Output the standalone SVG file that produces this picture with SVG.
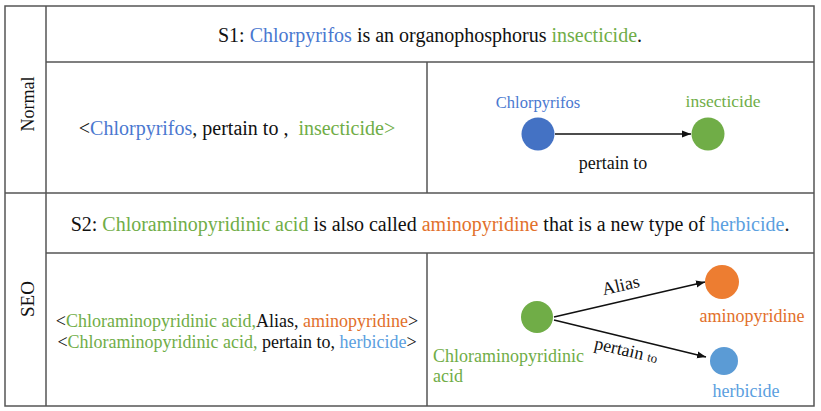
<svg xmlns="http://www.w3.org/2000/svg" width="821" height="411" viewBox="0 0 821 411">
<defs>
<style>
text{font-family:"Liberation Serif","Times New Roman",serif;fill:#111}
.b{fill:#4A78D0}.g{fill:#70AD47}.o{fill:#E2702B}.lb{fill:#5BA0E0}
.grid{stroke:#555;stroke-width:1.5;fill:none}
.edge{stroke:#111;stroke-width:1.6;fill:none}
</style>
<marker id="ah" markerWidth="10" markerHeight="8" refX="9" refY="4" orient="auto" markerUnits="userSpaceOnUse">
<path d="M0,0.5 L9,4 L0,7.5 Z" fill="#111"/>
</marker>
</defs>
<rect width="821" height="411" fill="#fff"/>
<g id="table">
<rect class="grid" x="5" y="6" width="809" height="400"/>
<line class="grid" x1="46" y1="6" x2="46" y2="406"/>
<line class="grid" x1="46" y1="62" x2="814" y2="62"/>
<line class="grid" x1="5" y1="193" x2="814" y2="193"/>
<line class="grid" x1="46" y1="253" x2="814" y2="253"/>
<line class="grid" x1="427" y1="62" x2="427" y2="193"/>
<line class="grid" x1="427" y1="253" x2="427" y2="406"/>
</g>
<g id="row-labels">
<text transform="translate(34,104) rotate(-90)" text-anchor="middle" font-size="18">Normal</text>
<text transform="translate(34,299) rotate(-90)" text-anchor="middle" font-size="19">SEO</text>
</g>
<g id="s1">
<text x="430" y="42" text-anchor="middle" font-size="20">S1: <tspan class="b">Chlorpyrifos</tspan> is an organophosphorus <tspan class="g">insecticide</tspan>.</text>
</g>
<g id="triple1">
<text x="237" y="135" text-anchor="middle" font-size="20" xml:space="preserve">&lt;<tspan class="b">Chlorpyrifos</tspan>, pertain to ,  <tspan class="g">insecticide&gt;</tspan></text>
</g>
<g id="s2">
<text x="430" y="231" text-anchor="middle" font-size="20">S2: <tspan class="g">Chloraminopyridinic acid</tspan> is also called <tspan class="o">aminopyridine</tspan> that is a new type of <tspan class="lb">herbicide</tspan>.</text>
</g>
<g id="triple2">
<text x="237" y="327" text-anchor="middle" font-size="18">&lt;<tspan class="g">Chloraminopyridinic acid,</tspan>Alias, <tspan class="o">aminopyridine</tspan>&gt;</text>
<text x="237" y="348" text-anchor="middle" font-size="18">&lt;<tspan class="g">Chloraminopyridinic acid,</tspan> pertain to, <tspan class="lb">herbicide</tspan>&gt;</text>
</g>
<g id="connectors">
<line class="edge" x1="555" y1="134" x2="691" y2="134" marker-end="url(#ah)"/>
<line class="edge" x1="554" y1="317" x2="705" y2="282" marker-end="url(#ah)"/>
<line class="edge" x1="554" y1="320" x2="706" y2="357" marker-end="url(#ah)"/>
<text x="613" y="169" text-anchor="middle" font-size="18">pertain to</text>
<text transform="translate(622,291) rotate(-13)" text-anchor="middle" font-size="18">Alias</text>
<text transform="translate(625,356) rotate(13)" text-anchor="middle" font-size="18">pertain <tspan font-size="13">to</tspan></text>
</g>
<g id="node-chlorpyrifos">
<circle cx="538" cy="134" r="16.5" fill="#4472C4"/>
<text class="b" x="538" y="108" text-anchor="middle" font-size="16.5">Chlorpyrifos</text>
</g>
<g id="node-insecticide">
<circle cx="708" cy="134" r="16.5" fill="#70AD47"/>
<text class="g" x="723" y="107" text-anchor="middle" font-size="17.5">insecticide</text>
</g>
<g id="node-chloraminopyridinic">
<circle cx="537" cy="317" r="16" fill="#70AD47"/>
<text class="g" x="433" y="362" font-size="18">Chloraminopyridinic</text>
<text class="g" x="433" y="382" font-size="18">acid</text>
</g>
<g id="node-aminopyridine">
<circle cx="722" cy="282" r="17" fill="#ED7D31"/>
<text class="o" x="752" y="322" text-anchor="middle" font-size="18">aminopyridine</text>
</g>
<g id="node-herbicide">
<circle cx="724" cy="361" r="14" fill="#5B9BD5"/>
<text class="lb" x="746" y="397" text-anchor="middle" font-size="18">herbicide</text>
</g>
</svg>
